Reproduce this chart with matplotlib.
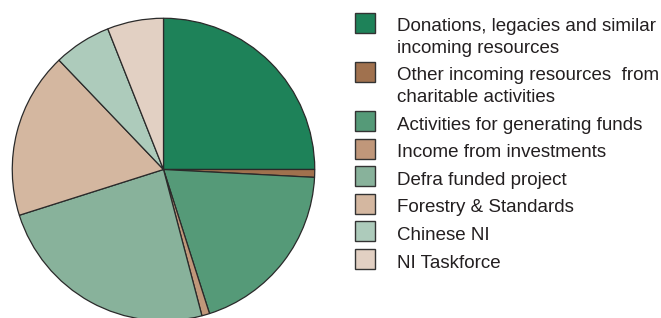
import matplotlib.pyplot as plt
from matplotlib.patches import Rectangle

# share of incoming resources (percent), clockwise from 12 o'clock
labels = ["Donations, legacies and similar\nincoming resources",
          "Other incoming resources  from\ncharitable activities",
          "Activities for generating funds",
          "Income from investments",
          "Defra funded project",
          "Forestry & Standards",
          "Chinese NI",
          "NI Taskforce"]
shares = [25.0, 0.83, 19.25, 0.83, 24.2, 17.75, 6.14, 6.0]
colors = ["#1e8259", "#a0714e", "#559a78", "#c0977a",
          "#88b29b", "#d4b7a0", "#adcbbb", "#e2d0c3"]

plt.rcParams['font.family'] = ['Liberation Sans', 'DejaVu Sans']

W, H = 661, 318
fig = plt.figure(figsize=(W / 100, H / 100), dpi=100)

# pie: centre (163.5, 169.5) px, radius 152 px
cx, cy, r = 163.5, 169.5, 152
ax = fig.add_axes([(cx - r) / W, (H - cy - r) / H, 2 * r / W, 2 * r / H])
ax.pie(shares, colors=colors, startangle=90, counterclock=False, radius=1,
       wedgeprops=dict(edgecolor="#2a2a2a", linewidth=0.9))
ax.set_xlim(-1.005, 1.005)
ax.set_ylim(-1.005, 1.005)
ax.set_aspect("equal")
ax.axis("off")

# legend drawn by hand so the box sits on the first text line
top = 12.7
for lab, col in zip(labels, colors):
    lines = lab.split("\n")
    fig.patches.append(Rectangle((355 / W, 1 - (top + 20) / H), 20 / W, 20 / H,
                                 transform=fig.transFigure, facecolor=col,
                                 edgecolor="#333333", linewidth=1.0))
    base = top + 18.6
    for i, ln in enumerate(lines):
        fig.text(397 / W, 1 - (base + i * 21.6) / H, ln, fontsize=13.5,
                 color="#231f20", ha="left", va="baseline")
    top += 27.6 + 21.5 * (len(lines) - 1)

fig.savefig("out.png", dpi=100)
